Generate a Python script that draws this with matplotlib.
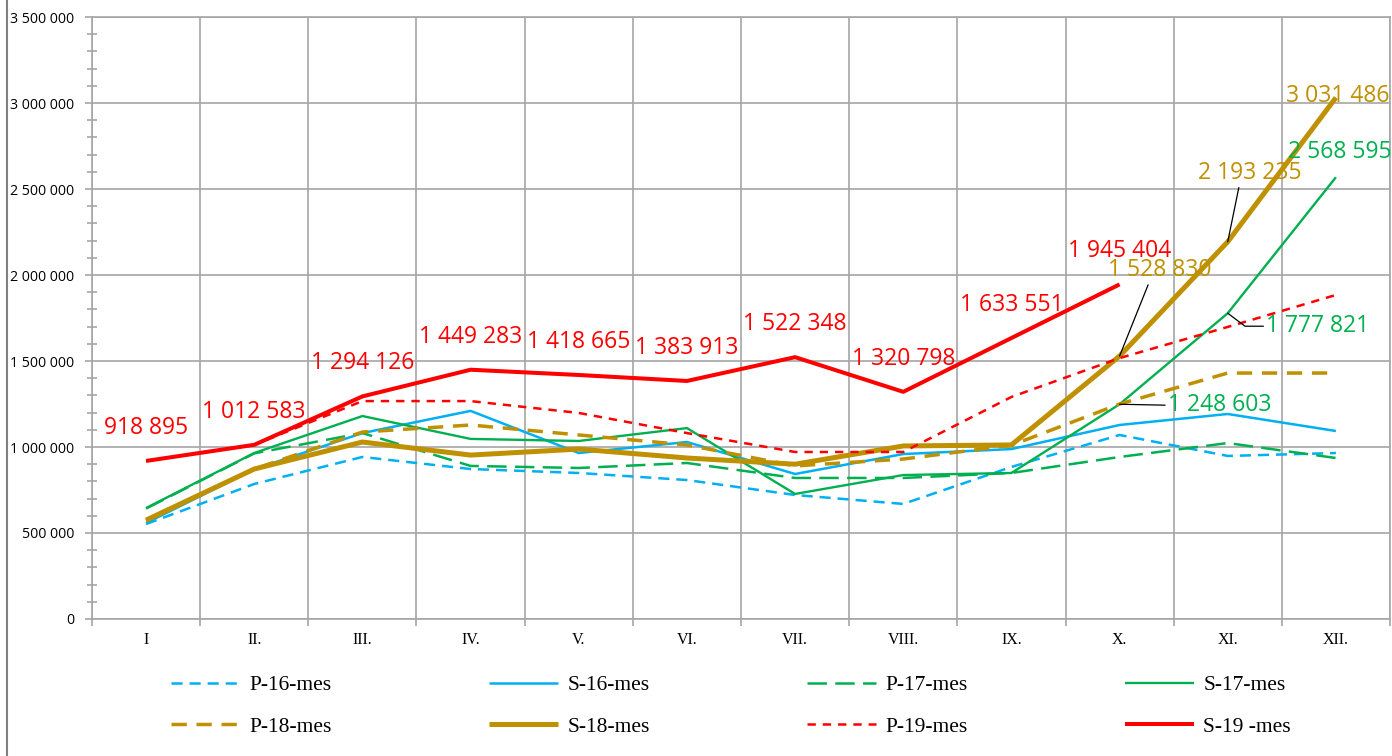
import matplotlib
matplotlib.use("Agg")
import matplotlib.pyplot as plt
from matplotlib.lines import Line2D
from matplotlib.ticker import FuncFormatter, MultipleLocator, FixedLocator

# Data
months = ["I", "II.", "III.", "IV.", "V.", "VI.", "VII.", "VIII.", "IX.", "X.", "XI.", "XII."]

p16 = [552000, 785000, 942000, 872000, 849000, 808000, 721000, 669000, 884000, 1070000, 948000, 965000]
s16 = [558000, 870000, 1081000, 1210000, 965000, 1029000, 843000, 959000, 988000, 1128000, 1192000, 1093000]
p17 = [642000, 963000, 1081000, 890000, 878000, 907000, 820000, 820000, 849000, 942000, 1023000, 936000]
s17 = [645000, 965000, 1180000, 1047000, 1035000, 1110000, 727000, 837000, 849000, 1248603, 1777821, 2568595]
p18 = [570000, 872000, 1087000, 1128000, 1070000, 1012000, 890000, 930000, 1010000, 1250000, 1430000, 1430000]
s18 = [575000, 872000, 1029000, 953000, 988000, 936000, 900000, 1006000, 1012000, 1528830, 2193235, 3031486]
p19 = [918895, 1012583, 1267000, 1267000, 1198000, 1081000, 971000, 971000, 1291000, 1517000, 1698000, 1884000]
s19 = [918895, 1012583, 1294126, 1449283, 1418665, 1383913, 1522348, 1320798, 1633551, 1945404]

BLUE = "#00B0F0"
GREEN = "#00B050"
GOLD = "#BF9000"
RED = "#FF0000"
GRID = "#A6A6A6"

plt.rcParams["lines.scale_dashes"] = False
LABEL_FONT = "Open Sans"


def fmt(v):
    return f"{int(round(v)):,}".replace(",", " ")


fig = plt.figure(figsize=(13.92, 7.56), dpi=100)
ax = fig.add_axes([92 / 1392, 1 - 619 / 756, (1390 - 92) / 1392, (619 - 17) / 756])

x = list(range(len(months)))
series = [
    ("P-16-mes", p16, BLUE, 1.8, (0, (8, 5))),
    ("S-16-mes", s16, BLUE, 1.8, "-"),
    ("P-17-mes", p17, GREEN, 1.8, (0, (14, 6))),
    ("S-17-mes", s17, GREEN, 1.7, "-"),
    ("P-18-mes", p18, GOLD, 2.5, (0, (11, 7))),
    ("S-18-mes", s18, GOLD, 3.6, "-"),
    ("P-19-mes", p19, RED, 1.8, (0, (6, 5))),
    ("S-19 -mes", s19, RED, 2.9, "-"),
]
handles = {}
for name, vals, col, lw, ls in series:
    (h,) = ax.plot(x[:len(vals)], vals, color=col, lw=lw, ls=ls, label=name,
                   solid_capstyle="butt", dash_capstyle="butt")
    handles[name] = h

ax.set_xlim(-0.5, 11.5)
ax.set_ylim(0, 3500000)

# axes styling
ax.yaxis.set_major_locator(MultipleLocator(500000))
ax.yaxis.set_minor_locator(MultipleLocator(100000))
ax.yaxis.set_major_formatter(FuncFormatter(lambda v, p: fmt(v)))
ax.set_xticks(x)
ax.set_xticklabels(months, fontfamily="Liberation Serif", fontsize=11.5)
ax.xaxis.set_minor_locator(FixedLocator([i - 0.5 for i in range(13)]))
ax.tick_params(axis="x", which="major", length=0, pad=9)
ax.tick_params(axis="x", which="minor", length=5, color=GRID, width=1.2)
ax.tick_params(axis="y", which="major", length=5, color=GRID, width=1.2, pad=8, labelsize=10.2)
ax.tick_params(axis="y", which="minor", length=7, direction="inout", color=GRID, width=1.2)
for lab in ax.get_yticklabels():
    lab.set_fontfamily(LABEL_FONT)
ax.grid(True, axis="x", which="minor", color=GRID, lw=1.2)
ax.grid(True, axis="y", which="major", color=GRID, lw=1.2)
ax.set_axisbelow(True)
for sp in ax.spines.values():
    sp.set_color(GRID)
    sp.set_linewidth(1.2)

# data labels for S-19
for i, v in enumerate(s19):
    ax.annotate(fmt(v), (i, v), xytext=(0, 33), textcoords="offset pixels",
                ha="center", va="center", color=RED, fontsize=16.5, fontfamily=LABEL_FONT)

# labels for S-18 and S-17 (last months)
lead = dict(arrowstyle="-", color="black", lw=0.9, shrinkA=0, shrinkB=0)
ax.annotate(fmt(s18[9]), (9, s18[9]), xytext=(40, 86), textcoords="offset pixels",
            ha="center", va="center", color=GOLD, fontsize=16.5, fontfamily=LABEL_FONT,
            arrowprops=dict(lead, relpos=(0.4, 0.0)))
ax.annotate(fmt(s18[10]), (10, s18[10]), xytext=(22, 69), textcoords="offset pixels",
            ha="center", va="center", color=GOLD, fontsize=16.5, fontfamily=LABEL_FONT,
            arrowprops=dict(lead, relpos=(0.4, 0.0)))
ax.annotate(fmt(s18[11]), (11, s18[11]), xytext=(2, 2), textcoords="offset pixels",
            ha="center", va="center", color=GOLD, fontsize=16.5, fontfamily=LABEL_FONT,
            annotation_clip=False)
ax.annotate(fmt(s17[11]), (11, s17[11]), xytext=(4, 25), textcoords="offset pixels",
            ha="center", va="center", color=GREEN, fontsize=16.5, fontfamily=LABEL_FONT,
            annotation_clip=False)
ax.annotate(fmt(s17[10]), (10, s17[10]), xytext=(90, -13), textcoords="offset pixels",
            ha="center", va="center", color=GREEN, fontsize=16.5, fontfamily=LABEL_FONT,
            arrowprops=dict(lead, relpos=(0.0, 0.5), connectionstyle="angle,angleA=0,angleB=-37,rad=0"))
ax.annotate(fmt(s17[9]), (9, s17[9]), xytext=(100, -1), textcoords="offset pixels",
            ha="center", va="center", color=GREEN, fontsize=16.5, fontfamily=LABEL_FONT,
            arrowprops=dict(lead, relpos=(0.0, 0.5)))

# legend, row-wise order
order = ["P-16-mes", "P-18-mes", "S-16-mes", "S-18-mes", "P-17-mes", "P-19-mes", "S-17-mes", "S-19 -mes"]
fig.legend([handles[k] for k in order], order, ncol=4, loc="center",
           bbox_to_anchor=(0.525, 1 - 706 / 756), frameon=False,
           prop={"family": "Liberation Serif", "size": 15.5},
           handlelength=3.2, handletextpad=0.45, columnspacing=7.3, labelspacing=1.0)

# chart border on the left edge
fig.add_artist(Line2D([7 / 1392, 7 / 1392], [0, 1], color="#808080", lw=1.5))

fig.savefig("out.png", dpi=100)
